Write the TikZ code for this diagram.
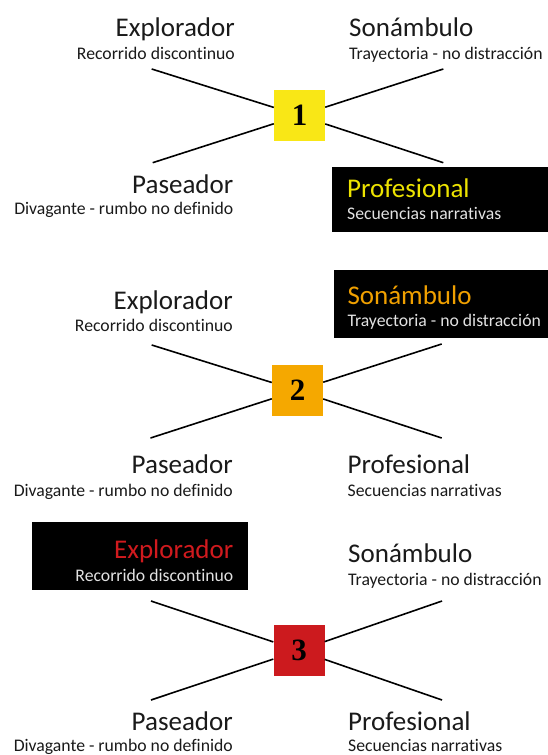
\documentclass[tikz,border=0pt]{standalone}
\usepackage{fontspec}
\setmainfont{Carlito}[RawFeature=-liga]
\newfontfamily\numfont{Liberation Serif}
\definecolor{txt}{HTML}{1A1A1A}
\definecolor{yel}{HTML}{F9E716}
\definecolor{yeltxt}{HTML}{EDE300}
\definecolor{org}{HTML}{F5A800}
\definecolor{orgtxt}{HTML}{F0A000}
\definecolor{rd}{HTML}{CC1A1E}
\definecolor{rdtxt}{HTML}{D01A1E}
\definecolor{lite}{HTML}{E2E2E2}
\tikzset{
  ttl/.style={font=\fontsize{27}{30}\selectfont, inner sep=0pt, text=txt},
  sub/.style={font=\fontsize{17.7}{20}\selectfont, inner sep=0pt, text=txt},
  numbox/.style={minimum width=51pt, minimum height=51pt, inner sep=0pt,
     font=\numfont\bfseries\fontsize{31}{31}\selectfont, text=black},
  conn/.style={line width=1.6pt, draw=black},
  hibox/.style={fill=black, draw=none}
}
\begin{document}
\begin{tikzpicture}[x=1pt,y=-1pt]
\useasboundingbox (0,0) rectangle (548,755);
\fill[white] (0,0) rectangle (548,755);

% ---------- Panel 1 ----------
\fill[hibox] (332,167) rectangle (548,232);
\node[numbox, fill=yel] (b1) at (299.5,115.5) {1};
\coordinate (ul1) at (151.7,69);
\coordinate (ur1) at (443.3,69);
\coordinate (ll1) at (152.7,162.7);
\coordinate (lr1) at (443.3,162.7);
\draw[conn] (ul1) -- (b1);
\draw[conn] (ur1) -- (b1);
\draw[conn] (ll1) -- (b1);
\draw[conn] (lr1) -- (b1);
\node[ttl, anchor=base east] (e1) at (235,36) {Explorador};
\node[sub, anchor=base east] (e1s) at (235,59) {Recorrido discontinuo};
\node[ttl, anchor=base west] (s1) at (349,36) {Sonámbulo};
\node[sub, anchor=base west] (s1s) at (349,59) {Trayectoria - no distracción};
\node[ttl, anchor=base east] (p1) at (233.5,193) {Paseador};
\node[sub, anchor=base east] (p1s) at (233.5,214.5) {Divagante - rumbo no definido};
\node[ttl, anchor=base west, text=yeltxt] (f1) at (347,197.3) {Profesional};
\node[sub, anchor=base west, text=lite] (f1s) at (347,219.3) {Secuencias narrativas};

% ---------- Panel 2 ----------
\fill[hibox] (334,270) rectangle (548,337.7);
\node[numbox, fill=org] (b2) at (297.5,390.5) {2};
\coordinate (ul2) at (151.7,345);
\coordinate (ur2) at (441.7,344);
\coordinate (ll2) at (150.5,438);
\coordinate (lr2) at (441.7,438);
\draw[conn] (ul2) -- (b2);
\draw[conn] (ur2) -- (b2);
\draw[conn] (ll2) -- (b2);
\draw[conn] (lr2) -- (b2);
\node[ttl, anchor=base east] (e2) at (233,309.3) {Explorador};
\node[sub, anchor=base east] (e2s) at (233,331.7) {Recorrido discontinuo};
\node[ttl, anchor=base west, text=orgtxt] (s2) at (347.3,304.3) {Sonámbulo};
\node[sub, anchor=base west, text=lite] (s2s) at (347.3,326.7) {Trayectoria - no distracción};
\node[ttl, anchor=base east] (p2) at (233,473) {Paseador};
\node[sub, anchor=base east] (p2s) at (233,496) {Divagante - rumbo no definido};
\node[ttl, anchor=base west] (f2) at (347.5,473) {Profesional};
\node[sub, anchor=base west] (f2s) at (347.5,496) {Secuencias narrativas};

% ---------- Panel 3 ----------
\fill[hibox] (32,522) rectangle (248,590);
\node[numbox, fill=rd] (b3) at (299,650.5) {3};
\coordinate (ul3) at (151,601);
\coordinate (ur3) at (442,601);
\coordinate (ll3) at (151,700);
\coordinate (lr3) at (442,700);
\draw[conn] (ul3) -- (b3);
\draw[conn] (ur3) -- (b3);
\draw[conn] (ll3) -- (b3);
\draw[conn] (lr3) -- (b3);
\node[ttl, anchor=base east, text=rdtxt] (e3) at (233.5,558) {Explorador};
\node[sub, anchor=base east, text=lite] (e3s) at (233.5,581) {Recorrido discontinuo};
\node[ttl, anchor=base west] (s3) at (348,562) {Sonámbulo};
\node[sub, anchor=base west] (s3s) at (348,585) {Trayectoria - no distracción};
\node[ttl, anchor=base east] (p3) at (233,730) {Paseador};
\node[sub, anchor=base east] (p3s) at (233,751) {Divagante - rumbo no definido};
\node[ttl, anchor=base west] (f3) at (348,730) {Profesional};
\node[sub, anchor=base west] (f3s) at (348,751) {Secuencias narrativas};
\end{tikzpicture}
\end{document}
